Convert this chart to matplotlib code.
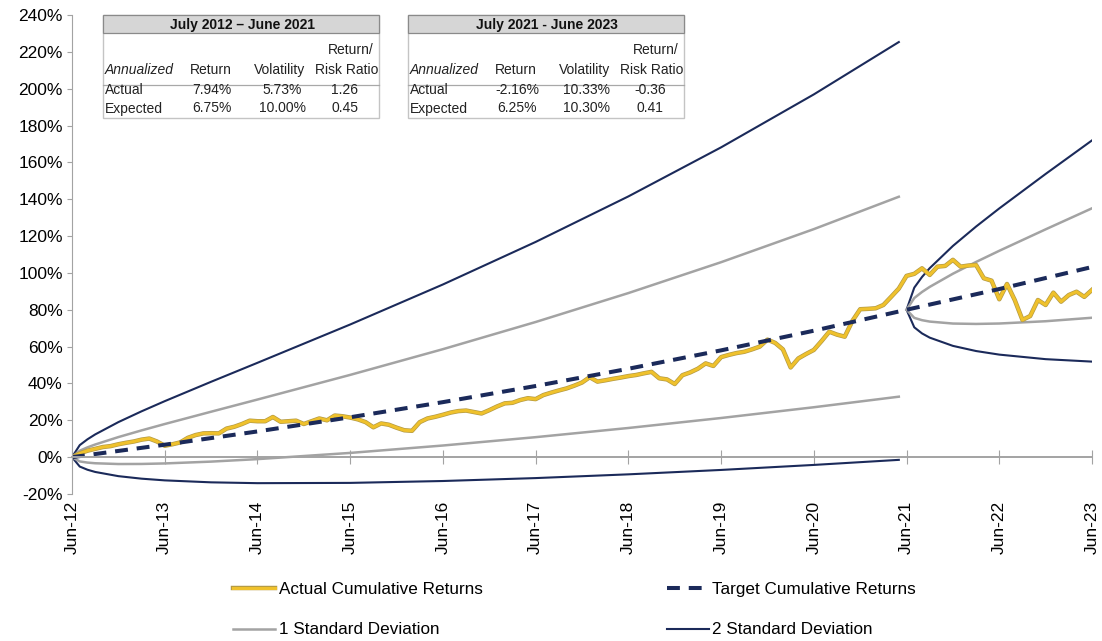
import matplotlib
matplotlib.use('Agg')
import matplotlib.pyplot as plt
import matplotlib.patheffects as pe
from matplotlib.patches import Rectangle
from matplotlib.ticker import FuncFormatter

# x axis: months since Jun-12
tick_labels = ['Jun-12', 'Jun-13', 'Jun-14', 'Jun-15', 'Jun-16', 'Jun-17',
               'Jun-18', 'Jun-19', 'Jun-20', 'Jun-21', 'Jun-22', 'Jun-23']

# actual cumulative return (%), monthly, Jun-12 .. Jun-23
actual = [0, 2, 3.5, 4.5, 5.5, 6, 7, 7.8, 8.5, 9.5, 10.1, 8.5,
          6.2, 7, 8, 10.5, 12, 12.9, 13, 12.9, 15.5, 16.5, 18, 19.8,
          19.5, 19.5, 21.8, 19.2, 19.5, 19.8, 18, 19.5, 21, 20, 22.6, 22.2,
          21.5, 20.5, 19, 16.2, 18.3, 17.6, 16, 14.6, 14.3, 19, 21, 21.9,
          23, 24.2, 25, 25.3, 24.5, 23.7, 25.5, 27.5, 29.2, 29.5, 31, 32,
          31.5, 33.7, 35, 36.2, 37.3, 38.8, 40.5, 43.4, 41, 41.7, 42.5, 43.2,
          44, 44.6, 45.5, 46.3, 42.8, 42.2, 39.7, 44.5, 46, 48, 50.9, 49.5,
          54.3, 55.5, 56.5, 57.2, 58.5, 60, 63.8, 62, 58.5, 48.7, 53.6, 56,
          58.2, 63, 68.1, 66.5, 65.4, 74, 80.3, 80.5, 80.8, 82.6, 87, 91.5,
          98.4, 99.5, 102.5, 98.9, 103.4, 103.8, 107.1, 103.4, 104, 104.3, 97.1, 95.8,
          85.7, 94, 85.3, 74.5, 76.6, 85.3, 82.6, 89.3, 84.4, 88, 89.8, 87,
          90.8]

target_months = [0, 12, 24, 36, 48, 60, 72, 84, 96, 108, 120, 132]
target = [0, 6.75, 13.96, 21.65, 29.86, 38.62, 47.98, 57.97, 68.63, 80.01, 91.26, 103.21]

# bands, July 2012 - June 2021
band1_months = [0, 1, 2, 3, 6, 9, 12, 18, 24, 36, 48, 60, 72, 84, 96, 107]
sd1_up_a = [0, 3.49, 5.31, 6.86, 10.89, 14.52, 17.98, 24.66, 31.27, 44.65, 58.61,
            73.36, 89.06, 105.82, 123.77, 141.35]
sd1_lo_a = [0, -2.32, -2.95, -3.31, -3.73, -3.69, -3.41, -2.42, -1.07, 2.30, 6.32,
            10.85, 15.83, 21.25, 27.09, 32.82]
sd2_up_a = [0, 6.52, 9.69, 12.34, 19.02, 24.88, 30.39, 40.91, 51.21, 72.01, 93.73,
            116.82, 141.53, 168.16, 196.90, 225.32]
sd2_lo_a = [0, -5.10, -6.83, -8.03, -10.31, -11.68, -12.60, -13.67, -14.12, -13.97,
            -12.95, -11.36, -9.33, -6.94, -4.22, -1.47]

# bands, July 2021 - June 2023
band2_months = [108, 109, 110, 111, 114, 117, 120, 126, 132]
sd1_up_b = [80.01, 86.38, 89.65, 92.42, 99.57, 105.96, 112.01, 123.66, 135.08]
sd1_lo_b = [80.01, 75.62, 74.35, 73.59, 72.52, 72.31, 72.54, 73.78, 75.67]
sd2_up_b = [80.01, 92.01, 97.79, 102.59, 114.65, 125.18, 135.01, 153.73, 171.94]
sd2_lo_b = [80.01, 70.48, 67.17, 64.87, 60.40, 57.60, 55.66, 53.19, 51.86]

# summary tables
table_titles = ['July 2012 \u2013 June 2021', 'July 2021 - June 2023']
row_names = ['Actual', 'Expected']
table1_rows = [['7.94%', '5.73%', '1.26'], ['6.75%', '10.00%', '0.45']]
table2_rows = [['-2.16%', '10.33%', '-0.36'], ['6.25%', '10.30%', '0.41']]

NAVY = '#1b2a5a'
GRAY = '#a3a3a3'
GOLD = '#efc12c'
W, H = 1102, 641

plt.rcParams['font.family'] = ['Liberation Sans', 'DejaVu Sans']

fig = plt.figure(figsize=(W / 100, H / 100), dpi=100)
ax = fig.add_axes([72 / W, 1 - 494 / H, (1092 - 72) / W, (494 - 15) / H])

l_sd2, = ax.plot(band1_months, sd2_up_a, color=NAVY, lw=1.5, label='2 Standard Deviation')
ax.plot(band1_months, sd2_lo_a, color=NAVY, lw=1.5)
ax.plot(band2_months, sd2_up_b, color=NAVY, lw=1.5)
ax.plot(band2_months, sd2_lo_b, color=NAVY, lw=1.5)
l_sd1, = ax.plot(band1_months, sd1_up_a, color=GRAY, lw=1.8, label='1 Standard Deviation')
ax.plot(band1_months, sd1_lo_a, color=GRAY, lw=1.8)
ax.plot(band2_months, sd1_up_b, color=GRAY, lw=1.8)
ax.plot(band2_months, sd1_lo_b, color=GRAY, lw=1.8)

outline = [pe.Stroke(linewidth=3.2, foreground='#b39a45'), pe.Normal()]
l_act, = ax.plot(range(len(actual)), actual, color=GOLD, lw=2.2,
                 path_effects=outline, label='Actual Cumulative Returns')
l_tgt, = ax.plot(target_months, target, color=NAVY, lw=2.9, dashes=(3.2, 2.2),
                 label='Target Cumulative Returns')

ax.set_xlim(0, 132)
ax.set_ylim(-20, 240)
ax.set_yticks(range(-20, 241, 20))
ax.yaxis.set_major_formatter(FuncFormatter(lambda v, p: '{:.0f}%'.format(v)))

for s in ['top', 'right']:
    ax.spines[s].set_visible(False)
ax.spines['left'].set_color(GRAY)
ax.spines['bottom'].set_position(('data', 0))
ax.spines['bottom'].set_color(GRAY)
ax.spines['bottom'].set_linewidth(1.4)

ax.set_xticks(target_months)
ax.tick_params(axis='x', direction='inout', length=9.5, color=GRAY, labelbottom=False)
ax.tick_params(axis='y', direction='out', length=3.6, color=GRAY, labelsize=12.5, pad=3)

sec = ax.secondary_xaxis(0)
sec.set_xticks(target_months)
sec.set_xticklabels(tick_labels, rotation=90, fontsize=12.5)
sec.tick_params(length=0, pad=5)
sec.spines['bottom'].set_visible(False)

fig.legend([l_act, l_sd1, l_tgt, l_sd2],
           [h.get_label() for h in [l_act, l_sd1, l_tgt, l_sd2]],
           ncol=2, loc='upper left', bbox_to_anchor=(218 / W, 1 - 567 / H),
           frameon=False, handlelength=2.45, handletextpad=0.2, labelspacing=1.47,
           columnspacing=10.8, fontsize=12.3)

# tables drawn in pixel coordinates on an overlay
ov = fig.add_axes([0, 0, 1, 1])
ov.set_xlim(0, W)
ov.set_ylim(H, 0)
ov.axis('off')


def draw_table(left, title, rows):
    w = 276
    ov.add_patch(Rectangle((left, 15), w, 103, facecolor='white', edgecolor='#c4c4c4', lw=1))
    ov.add_patch(Rectangle((left, 15), w, 18, facecolor='#d6d6d6', edgecolor='#8a8a8a', lw=0.9))
    ov.plot([left, left + w], [84.5, 84.5], color='#a8a8a8', lw=0.9)
    ov.text(left + 139, 24.5, title, ha='center', va='center', fontsize=10,
            fontweight='bold', color='#111111')
    ov.text(left + 248, 50, 'Return/', ha='center', va='center', fontsize=10, color='#222222')
    ov.text(left + 2, 70, 'Annualized', ha='left', va='center', fontsize=10,
            style='italic', color='#222222')
    for cx, h in zip([108, 177, 244], ['Return', 'Volatility', 'Risk Ratio']):
        ov.text(left + cx, 70, h, ha='center', va='center', fontsize=10, color='#222222')
    for ry, name, vals in zip([89.5, 108.5], row_names, rows):
        ov.text(left + 2, ry, name, ha='left', va='center', fontsize=10, color='#222222')
        for cx, v in zip([109, 179, 242], vals):
            ov.text(left + cx, ry, v, ha='center', va='center', fontsize=10, color='#222222')


draw_table(103, table_titles[0], table1_rows)
draw_table(408, table_titles[1], table2_rows)

fig.savefig('out.png', dpi=100)
